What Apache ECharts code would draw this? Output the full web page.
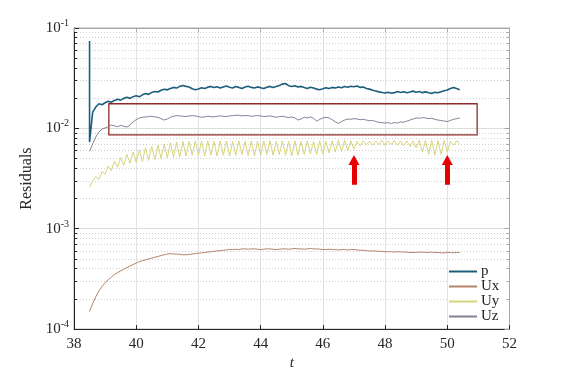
<!DOCTYPE html>
<html>
<head>
<meta charset="utf-8">
<script src="https://cdn.jsdelivr.net/npm/echarts@6/dist/echarts.min.js"></script>
<style>
  html, body { margin: 0; padding: 0; background: #fff; }
  #chart { width: 563px; height: 376px; }
</style>
</head>
<body>
<div id="chart"></div>
<script>
// sample times: 38.5 .. 50.4, step 0.1
const tStart = 38.5;
const tStep = 0.1;

// p starts with a spike at t = 38.5
const pSpike = [38.5, 0.074];
const pVals = [
  0.0073, 0.0145, 0.0163, 0.0176, 0.0172, 0.0180, 0.0186, 0.0182, 0.0190, 0.0195,
  0.0191, 0.0199, 0.0204, 0.0199, 0.0207, 0.0211, 0.0206, 0.0216, 0.0222, 0.0218,
  0.0228, 0.0233, 0.0230, 0.0240, 0.0245, 0.0242, 0.0250, 0.0256, 0.0252, 0.0262,
  0.0267, 0.0262, 0.0258, 0.0248, 0.0243, 0.0247, 0.0254, 0.0249, 0.0257, 0.0262,
  0.0255, 0.0260, 0.0252, 0.0258, 0.0264, 0.0257, 0.0253, 0.0261, 0.0256, 0.0250,
  0.0258, 0.0263, 0.0256, 0.0252, 0.0259, 0.0254, 0.0249, 0.0257, 0.0262, 0.0255,
  0.0261, 0.0268, 0.0276, 0.0280, 0.0266, 0.0261, 0.0266, 0.0258, 0.0262, 0.0255,
  0.0250, 0.0257, 0.0252, 0.0246, 0.0243, 0.0248, 0.0254, 0.0250, 0.0256, 0.0252,
  0.0258, 0.0254, 0.0261, 0.0257, 0.0263, 0.0260, 0.0264, 0.0256, 0.0258, 0.0250,
  0.0246, 0.0240, 0.0236, 0.0231, 0.0228, 0.0225, 0.0229, 0.0224, 0.0227, 0.0233,
  0.0228, 0.0232, 0.0226, 0.0230, 0.0235, 0.0229, 0.0233, 0.0227, 0.0231, 0.0226,
  0.0223, 0.0229, 0.0226, 0.0232, 0.0237, 0.0241, 0.0250, 0.0256, 0.0249, 0.0243
];
const uxVals = [
  1.50e-4, 1.80e-4, 2.10e-4, 2.40e-4, 2.65e-4, 2.90e-4, 3.10e-4, 3.30e-4, 3.50e-4, 3.65e-4,
  3.80e-4, 3.95e-4, 4.10e-4, 4.25e-4, 4.40e-4, 4.55e-4, 4.70e-4, 4.80e-4, 4.90e-4, 5.00e-4,
  5.10e-4, 5.20e-4, 5.30e-4, 5.40e-4, 5.50e-4, 5.60e-4, 5.65e-4, 5.60e-4, 5.60e-4, 5.55e-4,
  5.50e-4, 5.50e-4, 5.55e-4, 5.60e-4, 5.65e-4, 5.70e-4, 5.75e-4, 5.80e-4, 5.85e-4, 5.90e-4,
  5.95e-4, 6.00e-4, 6.05e-4, 6.10e-4, 6.15e-4, 6.20e-4, 6.20e-4, 6.25e-4, 6.20e-4, 6.30e-4,
  6.30e-4, 6.25e-4, 6.30e-4, 6.30e-4, 6.25e-4, 6.20e-4, 6.25e-4, 6.30e-4, 6.30e-4, 6.25e-4,
  6.20e-4, 6.25e-4, 6.30e-4, 6.30e-4, 6.25e-4, 6.30e-4, 6.35e-4, 6.30e-4, 6.30e-4, 6.25e-4,
  6.30e-4, 6.35e-4, 6.30e-4, 6.30e-4, 6.25e-4, 6.20e-4, 6.20e-4, 6.25e-4, 6.20e-4, 6.20e-4,
  6.15e-4, 6.20e-4, 6.20e-4, 6.15e-4, 6.20e-4, 6.20e-4, 6.15e-4, 6.10e-4, 6.10e-4, 6.05e-4,
  6.00e-4, 6.00e-4, 6.00e-4, 5.95e-4, 5.95e-4, 5.90e-4, 5.90e-4, 5.90e-4, 5.85e-4, 5.90e-4,
  5.90e-4, 5.85e-4, 5.85e-4, 5.80e-4, 5.80e-4, 5.80e-4, 5.85e-4, 5.85e-4, 5.80e-4, 5.80e-4,
  5.85e-4, 5.80e-4, 5.80e-4, 5.75e-4, 5.75e-4, 5.80e-4, 5.80e-4, 5.75e-4, 5.80e-4, 5.80e-4
];
const uyVals = [
  0.0026, 0.0030, 0.0033, 0.0031, 0.0037, 0.0035, 0.0042, 0.0038, 0.0047, 0.0041,
  0.0051, 0.0043, 0.0055, 0.0045, 0.0058, 0.0046, 0.0061, 0.0047, 0.0064, 0.0048,
  0.0066, 0.0049, 0.0068, 0.0050, 0.0070, 0.0051, 0.0072, 0.0052, 0.0073, 0.0052,
  0.0074, 0.0053, 0.0074, 0.0054, 0.0075, 0.0054, 0.0075, 0.0053, 0.0075, 0.0054,
  0.0074, 0.0053, 0.0075, 0.0054, 0.0075, 0.0053, 0.0074, 0.0054, 0.0075, 0.0055,
  0.0074, 0.0054, 0.0075, 0.0053, 0.0074, 0.0054, 0.0075, 0.0055, 0.0075, 0.0054,
  0.0074, 0.0055, 0.0075, 0.0054, 0.0074, 0.0053, 0.0075, 0.0054, 0.0074, 0.0055,
  0.0075, 0.0056, 0.0074, 0.0055, 0.0075, 0.0056, 0.0074, 0.0057, 0.0075, 0.0058,
  0.0076, 0.0059, 0.0076, 0.0060, 0.0075, 0.0062, 0.0074, 0.0067, 0.0075, 0.0069,
  0.0074, 0.0068, 0.0075, 0.0069, 0.0076, 0.0068, 0.0075, 0.0069, 0.0076, 0.0068,
  0.0075, 0.0067, 0.0075, 0.0066, 0.0075, 0.0064, 0.0076, 0.0058, 0.0076, 0.0055,
  0.0076, 0.0054, 0.0075, 0.0055, 0.0076, 0.0058, 0.0074, 0.0068, 0.0075, 0.0071
];
const uzVals = [
  0.0059, 0.0070, 0.0082, 0.0092, 0.0098, 0.0101, 0.0104, 0.0108, 0.0106, 0.0104,
  0.0107, 0.0105, 0.0103, 0.0108, 0.0116, 0.0122, 0.0127, 0.0129, 0.0130, 0.0131,
  0.0132, 0.0130, 0.0129, 0.0125, 0.0121, 0.0124, 0.0129, 0.0132, 0.0134, 0.0133,
  0.0132, 0.0131, 0.0133, 0.0134, 0.0133, 0.0131, 0.0129, 0.0130, 0.0132, 0.0131,
  0.0130, 0.0132, 0.0133, 0.0132, 0.0131, 0.0133, 0.0134, 0.0135, 0.0135, 0.0133,
  0.0134, 0.0134, 0.0132, 0.0133, 0.0134, 0.0133, 0.0131, 0.0132, 0.0133, 0.0131,
  0.0129, 0.0131, 0.0132, 0.0130, 0.0128, 0.0130, 0.0127, 0.0121, 0.0124, 0.0129,
  0.0127, 0.0130, 0.0126, 0.0118, 0.0123, 0.0127, 0.0129, 0.0127, 0.0122, 0.0116,
  0.0112, 0.0117, 0.0121, 0.0124, 0.0123, 0.0125, 0.0124, 0.0122, 0.0123, 0.0121,
  0.0119, 0.0120, 0.0117, 0.0115, 0.0114, 0.0113, 0.0114, 0.0112, 0.0114, 0.0113,
  0.0116, 0.0115, 0.0118, 0.0121, 0.0124, 0.0127, 0.0126, 0.0128, 0.0127, 0.0125,
  0.0126, 0.0123, 0.0121, 0.0120, 0.0118, 0.0117, 0.0120, 0.0123, 0.0125, 0.0127
];

// axis ticks
const xMin = 38;
const xMax = 52;
const yMajor = [1e-4, 1e-3, 1e-2, 1e-1];
const yMinor = [
  2e-4, 3e-4, 4e-4, 5e-4, 6e-4, 7e-4, 8e-4, 9e-4,
  2e-3, 3e-3, 4e-3, 5e-3, 6e-3, 7e-3, 8e-3, 9e-3,
  2e-2, 3e-2, 4e-2, 5e-2, 6e-2, 7e-2, 8e-2, 9e-2
];
const minorTickLen = 0.1; // in t units

// annotations: highlighted box and two arrows
const boxRange = [[39.12, 0.0176], [50.96, 0.0086]];
const arrowT = [47.0, 50.0];
const arrowFrom = 0.00274;
const arrowHead = 0.00485;

const t = pVals.map((_, i) => +(tStart + i * tStep).toFixed(1));
const toPairs = (vals) => t.map((x, i) => [x, vals[i]]);

const font = "'Liberation Serif', 'Times New Roman', serif";
const ink = "#262626";
const frame = "#a8a8a8";

const lineSeries = (name, color, width, data) => ({
  name: name,
  type: "line",
  data: data,
  symbol: "none",
  z: 3,
  lineStyle: { color: color, width: width },
  itemStyle: { color: color },
});

const segs = (pairs, style, z) => ({
  type: "lines",
  coordinateSystem: "cartesian2d",
  silent: true,
  z: z,
  lineStyle: style,
  data: pairs.map((c) => ({ coords: c })),
});

const option = {
  animation: false,
  backgroundColor: "#fff",
  grid: {
    left: 74,
    right: 53.5,
    top: 28,
    bottom: 43,
    show: true,
    borderColor: frame,
    borderWidth: 1,
  },
  legend: {
    orient: "vertical",
    left: 448,
    top: 263,
    itemWidth: 28,
    itemHeight: 16,
    itemGap: 0,
    padding: [1, 6, 3, 0],
    backgroundColor: "#fff",
    itemStyle: { opacity: 0 },
    data: ["p", "Ux", "Uy", "Uz"],
    textStyle: { fontFamily: font, fontSize: 15, color: ink, padding: [0, 0, 0, -1] },
  },
  xAxis: [
    {
      type: "value",
      min: xMin,
      max: xMax,
      interval: 2,
      name: "t",
      nameLocation: "middle",
      nameGap: 24,
      nameTextStyle: { fontFamily: font, fontSize: 15, fontStyle: "italic", color: ink },
      axisLine: { lineStyle: { color: ink } },
      axisTick: { inside: true, length: 4, lineStyle: { color: ink } },
      axisLabel: { fontFamily: font, fontSize: 15, color: ink, margin: 7 },
      splitLine: { show: true, lineStyle: { color: "#e2e2e2", width: 1 } },
    },
    {
      type: "value",
      position: "top",
      min: xMin,
      max: xMax,
      interval: 2,
      axisLine: { lineStyle: { color: frame } },
      axisTick: { inside: true, length: 4, lineStyle: { color: frame } },
      axisLabel: { show: false },
      splitLine: { show: false },
    },
  ],
  yAxis: [
    {
      type: "log",
      logBase: 10,
      min: 1e-4,
      max: 1e-1,
      name: "Residuals",
      nameLocation: "middle",
      nameGap: 36,
      nameTextStyle: { fontFamily: font, fontSize: 16, color: ink },
      axisLine: { lineStyle: { color: ink } },
      axisTick: { inside: true, length: 5, lineStyle: { color: ink } },
      axisLabel: {
        margin: 5,
        formatter: (v) => "{b|10}{s|" + Math.round(Math.log10(v)) + "}",
        rich: {
          b: { fontFamily: font, fontSize: 15, color: ink },
          s: { fontFamily: font, fontSize: 10, color: ink, padding: [0, 0, 9, 0] },
        },
      },
      splitLine: { show: true, lineStyle: { color: "#dcdcdc", width: 1 } },
    },
    {
      type: "log",
      logBase: 10,
      min: 1e-4,
      max: 1e-1,
      position: "right",
      axisLine: { lineStyle: { color: frame } },
      axisTick: { inside: true, length: 5, lineStyle: { color: frame } },
      axisLabel: { show: false },
      splitLine: { show: false },
    },
  ],
  series: [
    // minor grid lines and minor ticks
    segs(yMinor.map((v) => [[xMin, v], [xMax, v]]),
      { color: "#cfcfcf", type: [1, 2], width: 1, opacity: 1 }, 1),
    segs(yMinor.map((v) => [[xMin, v], [xMin + minorTickLen, v]]),
      { color: ink, width: 1, opacity: 1 }, 2),
    segs(yMinor.map((v) => [[xMax - minorTickLen, v], [xMax, v]]),
      { color: frame, width: 1, opacity: 1 }, 2),
    lineSeries("p", "#1d5e7c", 1.6, [pSpike].concat(toPairs(pVals))),
    lineSeries("Ux", "#b5836a", 1, toPairs(uxVals)),
    lineSeries("Uy", "#d6d47c", 1, toPairs(uyVals)),
    lineSeries("Uz", "#8a7f98", 1, toPairs(uzVals)),
    {
      // highlighted box
      type: "line",
      data: [],
      silent: true,
      z: 6,
      markArea: {
        silent: true,
        itemStyle: { color: "rgba(0,0,0,0)", borderColor: "#8e2b2b", borderWidth: 1.3 },
        label: { show: false },
        data: [[{ coord: boxRange[0] }, { coord: boxRange[1] }]],
      },
    },
    // arrow shafts and heads
    segs(arrowT.map((x) => [[x, arrowFrom], [x, arrowHead]]),
      { color: "#e60000", width: 5, opacity: 1, cap: "butt" }, 6),
    {
      type: "scatter",
      silent: true,
      z: 6,
      symbol: "triangle",
      symbolSize: [11, 10],
      itemStyle: { color: "#e60000", opacity: 1 },
      data: arrowT.map((x) => [x, arrowHead]),
    },
  ],
};

const myChart = echarts.init(document.getElementById("chart"));
myChart.setOption(option);
</script>
</body>
</html>
